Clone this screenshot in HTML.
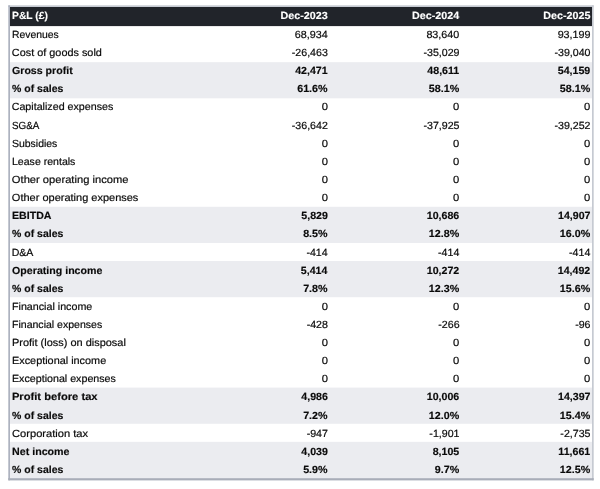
<!DOCTYPE html>
<html lang="en"><head><meta charset="utf-8"><title>P&amp;L</title>
<style>
html,body{margin:0;padding:0;background:#fff;}
body{width:600px;height:489px;position:relative;overflow:hidden;font-family:"Liberation Sans",sans-serif;font-size:10.4px;line-height:14.0px;color:#0a0a0a;text-rendering:geometricPrecision;-webkit-text-stroke:0.2px #0a0a0a;}
.bgsvg{position:absolute;left:0;top:0;display:block;}
.r{position:absolute;left:0;width:600px;height:14.0px;white-space:nowrap;}
.r span{position:absolute;top:0;display:block;}
.r .l{left:12.2px;transform-origin:0 50%;}
.r .c1{right:272.2px;transform-origin:100% 50%;}
.r .c2{right:140.8px;transform-origin:100% 50%;}
.r .c3{right:9.8px;transform-origin:100% 50%;}
.h{color:#fff;font-weight:700;-webkit-text-stroke:0.12px #fff;}
.b{font-weight:700;-webkit-text-stroke:0.15px #0a0a0a;}
</style></head><body>
<svg class="bgsvg" width="600" height="489" viewBox="0 0 600 489">
<rect x="8.3" y="5.3" width="585.4" height="1.7" fill="#c6cad2"/>
<rect x="592" y="5.3" width="1.7" height="475" fill="#c6cad2"/>
<rect x="8.3" y="5.3" width="1.7" height="475" fill="#adb2bf"/>
<rect x="8.3" y="478.1" width="585.4" height="2.3" fill="#a8adb8"/>
<rect x="10" y="7" width="582" height="19.1" fill="#21242a"/>
<rect x="10" y="62.16" width="582" height="36.16" fill="#ebecf0"/>
<rect x="10" y="206.80" width="582" height="36.16" fill="#ebecf0"/>
<rect x="10" y="261.04" width="582" height="36.16" fill="#ebecf0"/>
<rect x="10" y="387.60" width="582" height="36.16" fill="#ebecf0"/>
<rect x="10" y="441.84" width="582" height="36.26" fill="#ebecf0"/>
</svg>
<div class="r h" style="top:10px"><span class="l" style="transform:scaleX(0.9930)">P&amp;L (£)</span><span class="c1" style="transform:translateX(0.10px) scaleX(1.0350)">Dec-2023</span><span class="c2" style="transform:translateX(-0.50px) scaleX(1.0350)">Dec-2024</span><span class="c3" style="transform:translateX(-0.25px) scaleX(1.0350)">Dec-2025</span></div>
<div class="r" style="top:29px"><span class="l" style="transform:translateX(-0.25px)">Revenues</span><span class="c1" style="transform:translateX(-0.15px) scaleX(1.0350)">68,934</span><span class="c2" style="transform:translateX(0.50px) scaleX(1.0350)">83,640</span><span class="c3" style="transform:translateX(0.75px) scaleX(1.0350)">93,199</span></div>
<div class="r" style="top:47px"><span class="l" style="transform:translateX(-0.15px) scaleX(1.0459)">Cost of goods sold</span><span class="c1" style="transform:translateX(-0.40px) scaleX(1.0220)">-26,463</span><span class="c2" style="transform:translateX(0.25px) scaleX(1.0220)">-35,029</span><span class="c3" style="transform:translateX(0.25px) scaleX(1.0220)">-39,040</span></div>
<div class="r b" style="top:65px"><span class="l" style="transform:scaleX(1.0212)">Gross profit</span><span class="c1" style="transform:translateX(-0.15px) scaleX(1.0220)">42,471</span><span class="c2" style="transform:scaleX(1.0220)">48,611</span><span class="c3" style="transform:translateX(0.50px) scaleX(1.0220)">54,159</span></div>
<div class="r b" style="top:83px"><span class="l" style="transform:translateX(0.10px) scaleX(1.0080)">% of sales</span><span class="c1" style="transform:translateX(0.10px) scaleX(1.0300)">61.6%</span><span class="c2" style="transform:translateX(-0.25px) scaleX(1.0300)">58.1%</span><span class="c3" style="transform:translateX(-0.25px) scaleX(1.0300)">58.1%</span></div>
<div class="r" style="top:101px"><span class="l" style="transform:translateX(-0.30px) scaleX(1.0287)">Capitalized expenses</span><span class="c1" style="transform:translateX(0.10px) scaleX(1.0800)">0</span><span class="c2" style="transform:translateX(0.50px) scaleX(1.0800)">0</span><span class="c3" style="transform:translateX(0.50px) scaleX(1.0800)">0</span></div>
<div class="r" style="top:120px"><span class="l" style="transform:scaleX(0.9469)">SG&amp;A</span><span class="c1" style="transform:translateX(-0.40px) scaleX(1.0220)">-36,642</span><span class="c2" style="transform:translateX(0.25px) scaleX(1.0220)">-37,925</span><span class="c3" style="transform:translateX(0.25px) scaleX(1.0220)">-39,252</span></div>
<div class="r" style="top:138px"><span class="l" style="transform:scaleX(1.0056)">Subsidies</span><span class="c1" style="transform:translateX(0.10px) scaleX(1.0800)">0</span><span class="c2" style="transform:translateX(0.50px) scaleX(1.0800)">0</span><span class="c3" style="transform:translateX(0.50px) scaleX(1.0800)">0</span></div>
<div class="r" style="top:156px"><span class="l" style="transform:scaleX(1.0163)">Lease rentals</span><span class="c1" style="transform:translateX(0.10px) scaleX(1.0800)">0</span><span class="c2" style="transform:translateX(0.50px) scaleX(1.0800)">0</span><span class="c3" style="transform:translateX(0.50px) scaleX(1.0800)">0</span></div>
<div class="r" style="top:174px"><span class="l" style="transform:translateX(-0.15px) scaleX(1.0735)">Other operating income</span><span class="c1" style="transform:translateX(0.10px) scaleX(1.0800)">0</span><span class="c2" style="transform:translateX(0.50px) scaleX(1.0800)">0</span><span class="c3" style="transform:translateX(0.50px) scaleX(1.0800)">0</span></div>
<div class="r" style="top:192px"><span class="l" style="transform:translateX(-0.15px) scaleX(1.0581)">Other operating expenses</span><span class="c1" style="transform:translateX(0.10px) scaleX(1.0800)">0</span><span class="c2" style="transform:translateX(0.50px) scaleX(1.0800)">0</span><span class="c3" style="transform:translateX(0.50px) scaleX(1.0800)">0</span></div>
<div class="r b" style="top:210px"><span class="l" style="transform:scaleX(1.0199)">EBITDA</span><span class="c1" style="transform:translateX(-0.15px) scaleX(1.0220)">5,829</span><span class="c2" style="transform:translateX(0.50px) scaleX(1.0220)">10,686</span><span class="c3" style="transform:translateX(0.75px) scaleX(1.0220)">14,907</span></div>
<div class="r b" style="top:228px"><span class="l" style="transform:translateX(0.10px) scaleX(1.0080)">% of sales</span><span class="c1" style="transform:translateX(-0.15px) scaleX(1.0300)">8.5%</span><span class="c2" style="transform:translateX(-0.25px) scaleX(1.0300)">12.8%</span><span class="c3" style="transform:translateX(-0.25px) scaleX(1.0300)">16.0%</span></div>
<div class="r" style="top:247px"><span class="l" style="transform:translateX(-0.35px) scaleX(1.0172)">D&amp;A</span><span class="c1" style="transform:translateX(-0.15px) scaleX(1.0220)">-414</span><span class="c2" style="transform:translateX(0.50px) scaleX(1.0220)">-414</span><span class="c3" style="transform:translateX(0.50px) scaleX(1.0220)">-414</span></div>
<div class="r b" style="top:265px"><span class="l" style="transform:translateX(0.10px) scaleX(1.0217)">Operating income</span><span class="c1" style="transform:translateX(-0.65px) scaleX(1.0220)">5,414</span><span class="c2" style="transform:translateX(0.50px) scaleX(1.0220)">10,272</span><span class="c3" style="transform:translateX(0.50px) scaleX(1.0220)">14,492</span></div>
<div class="r b" style="top:283px"><span class="l" style="transform:translateX(0.10px) scaleX(1.0080)">% of sales</span><span class="c1" style="transform:translateX(-0.15px) scaleX(1.0300)">7.8%</span><span class="c2" style="transform:translateX(-0.25px) scaleX(1.0300)">12.3%</span><span class="c3" style="transform:translateX(-0.25px) scaleX(1.0300)">15.6%</span></div>
<div class="r" style="top:301px"><span class="l" style="transform:scaleX(1.0293)">Financial income</span><span class="c1" style="transform:translateX(0.10px) scaleX(1.0800)">0</span><span class="c2" style="transform:translateX(0.50px) scaleX(1.0800)">0</span><span class="c3" style="transform:translateX(0.50px) scaleX(1.0800)">0</span></div>
<div class="r" style="top:319px"><span class="l" style="transform:scaleX(1.0142)">Financial expenses</span><span class="c1" style="transform:translateX(0.10px) scaleX(1.0220)">-428</span><span class="c2" style="transform:translateX(0.75px) scaleX(1.0220)">-266</span><span class="c3" style="transform:translateX(0.50px) scaleX(1.0220)">-96</span></div>
<div class="r" style="top:337px"><span class="l" style="transform:scaleX(1.0540)">Profit (loss) on disposal</span><span class="c1" style="transform:translateX(0.10px) scaleX(1.0800)">0</span><span class="c2" style="transform:translateX(0.50px) scaleX(1.0800)">0</span><span class="c3" style="transform:translateX(0.50px) scaleX(1.0800)">0</span></div>
<div class="r" style="top:355px"><span class="l" style="transform:scaleX(1.0451)">Exceptional income</span><span class="c1" style="transform:translateX(0.10px) scaleX(1.0800)">0</span><span class="c2" style="transform:translateX(0.50px) scaleX(1.0800)">0</span><span class="c3" style="transform:translateX(0.50px) scaleX(1.0800)">0</span></div>
<div class="r" style="top:373px"><span class="l" style="transform:scaleX(1.0275)">Exceptional expenses</span><span class="c1" style="transform:translateX(0.10px) scaleX(1.0800)">0</span><span class="c2" style="transform:translateX(0.50px) scaleX(1.0800)">0</span><span class="c3" style="transform:translateX(0.50px) scaleX(1.0800)">0</span></div>
<div class="r b" style="top:391px"><span class="l" style="transform:translateX(-0.10px) scaleX(1.0753)">Profit before tax</span><span class="c1" style="transform:translateX(-0.15px) scaleX(1.0220)">4,986</span><span class="c2" style="transform:translateX(0.50px) scaleX(1.0220)">10,006</span><span class="c3" style="transform:translateX(0.75px) scaleX(1.0220)">14,397</span></div>
<div class="r b" style="top:410px"><span class="l" style="transform:translateX(0.10px) scaleX(1.0080)">% of sales</span><span class="c1" style="transform:translateX(-0.15px) scaleX(1.0300)">7.2%</span><span class="c2" style="transform:translateX(-0.25px) scaleX(1.0300)">12.0%</span><span class="c3" style="transform:translateX(-0.25px) scaleX(1.0300)">15.4%</span></div>
<div class="r" style="top:428px"><span class="l" style="transform:scaleX(1.0712)">Corporation tax</span><span class="c1" style="transform:translateX(0.10px) scaleX(1.0220)">-947</span><span class="c2" style="transform:scaleX(1.0220)">-1,901</span><span class="c3" style="transform:scaleX(1.0220)">-2,735</span></div>
<div class="r b" style="top:446px"><span class="l" style="transform:scaleX(1.0272)">Net income</span><span class="c1" style="transform:translateX(-0.15px) scaleX(1.0220)">4,039</span><span class="c2" style="transform:translateX(0.25px) scaleX(1.0220)">8,105</span><span class="c3" style="transform:scaleX(1.0220)">11,661</span></div>
<div class="r b" style="top:464px"><span class="l" style="transform:translateX(0.10px) scaleX(1.0080)">% of sales</span><span class="c1" style="transform:translateX(-0.15px) scaleX(1.0300)">5.9%</span><span class="c2" style="transform:translateX(-0.50px) scaleX(1.0300)">9.7%</span><span class="c3" style="transform:translateX(-0.25px) scaleX(1.0300)">12.5%</span></div>
</body></html>
